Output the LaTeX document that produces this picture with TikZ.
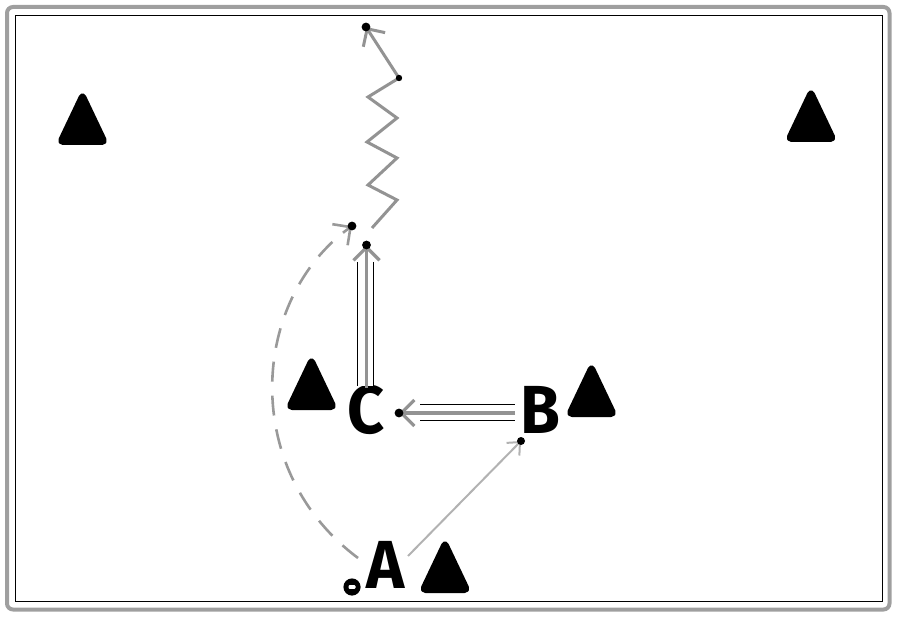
\documentclass[tikz,border=0pt]{standalone}
\usepackage{fontspec}
\usepackage{graphicx}
\setmainfont{Fira Sans}
\usetikzlibrary{arrows.meta,calc}
\tikzset{
  conefill/.style={fill=black, draw=black, line width=1.5pt, rounded corners=2.5pt, line join=round},
  pics/conepic/.style={code={\filldraw[conefill] (-24.5,-1.5) -- (0,-53) -- (24.5,-1.5) -- cycle;}},
  lbl/.style={font=\fontsize{34}{34}\selectfont\bfseries, inner sep=0pt},
  ball/.style={circle, fill=black, minimum size=8.6pt, inner sep=0pt},
  barb/.style={-{Straight Barb[length=6.5pt,width=13pt]}},
  move/.style={draw=gray!85, line width=1.6pt, barb},
  run/.style={draw=gray!80, line width=1.3pt, dash pattern=on 10pt off 7pt, barb},
  pass/.style={draw=gray!60, line width=1pt, -{Straight Barb[length=5pt,width=9pt]}},
  dribble/.style={draw=gray!85, line width=1.5pt, line join=miter, barb},
  rails/.style={draw=black, line width=0.5pt, double=white, double distance=7.5pt},
  tipdot/.style={fill=black},
  frameout/.style={draw=gray!75, line width=2pt, rounded corners=3pt},
  framein/.style={draw=black, line width=0.5pt},
}
\begin{document}
\begin{tikzpicture}[x=0.5pt,y=-0.5pt]
\useasboundingbox (0,0) rectangle (900,620);
\draw[frameout] (7,7) rectangle (889.5,609.5);
\draw[framein] (15.5,15.5) rectangle (882,601);

% cones
\pic (cone1) at (82.5,145) {conepic};
\pic (cone2) at (811,142) {conepic};
\pic (cone3) at (311.5,410) {conepic};
\pic (cone4) at (591.5,417) {conepic};
\pic (cone5) at (445,593) {conepic};

% players
\node[lbl] (C) at (366.5,410) {\scalebox{0.95}[1]{C}};
\node[lbl] (B) at (540,410) {\scalebox{0.95}[1]{B}};
\node[lbl] (A) at (386,565) {\scalebox{0.95}[1]{A}};
\node[ball] (ball) at (352,587) {};
\fill[white, rounded corners=0.5pt] ($(ball.center)+(-3.5,-1.8)$) rectangle ($(ball.center)+(3.5,1.8)$);

% end points
\coordinate (bcS) at (515,413);
\coordinate (bcT) at (399,413);
\coordinate (cuS) at (366.5,388);
\coordinate (cuT) at (366.5,245);
\coordinate (abS) at (408,556);
\coordinate (abT) at (521,441);
\coordinate (runS) at (358,558);
\coordinate (runT) at (352,226);
\coordinate (drS) at (372,228);
\coordinate (drK) at (399,78);
\coordinate (drT) at (366,27);

% rails of the double moves
\draw[rails] (420,412.5) -- (515,412.5);
\draw[rails] (365.3,262) -- (365.3,386);

% moves
\draw[move] (bcS) -- (bcT);
\draw[move] (cuS) -- (cuT);
\draw[pass] (abS) -- (abT);
\draw[run] (runS) .. controls (240,470) and (250,300) .. (runT);
\draw[dribble] (drS) -- (397,200) -- (368,185) -- (397,158) -- (367,142) -- (397,118) -- (368,97) -- (drK) -- (drT);

% tip dots
\fill[tipdot] (bcT) circle (2.2pt);
\fill[tipdot] (cuT) circle (2.2pt);
\fill[tipdot] (abT) circle (2pt);
\fill[tipdot] (runT) circle (2.2pt);
\fill[tipdot] (drT) circle (2.2pt);
\fill[tipdot] (drK) circle (1.6pt);
\end{tikzpicture}
\end{document}
